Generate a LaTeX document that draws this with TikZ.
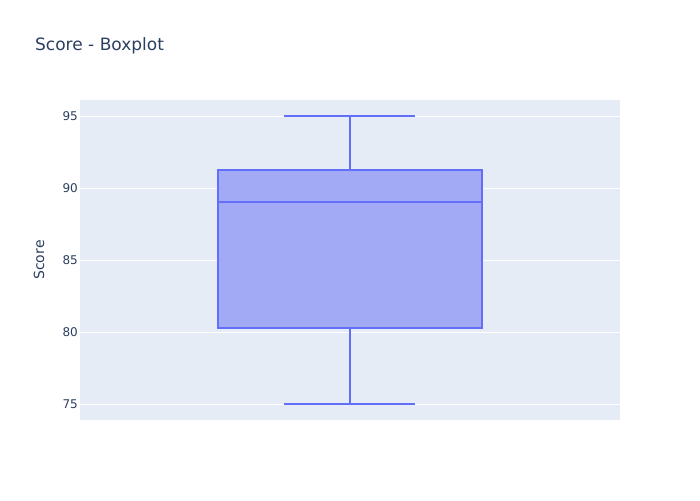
\documentclass[tikz,border=0pt]{standalone}
\usepackage{fontspec}
\setmainfont{DejaVu Sans}
\definecolor{plotbg}{HTML}{E5ECF6}
\definecolor{boxline}{HTML}{636EFA}
\definecolor{boxfill}{HTML}{A2A9F5}
\definecolor{axistext}{HTML}{2A3F5F}
\tikzset{
  ticklabel/.style={anchor=east,inner sep=0pt,text=axistext,font=\fontsize{12}{14}\selectfont},
  gridline/.style={draw=white,line width=1pt},
  boxedge/.style={draw=boxline,line width=2pt}
}
\begin{document}
\begin{tikzpicture}[x=1pt,y=-1pt]
\useasboundingbox (0,0) rectangle (700,500);
\fill[plotbg] (80,100) rectangle (620,420);
% grid and tick labels
\foreach \v/\yy in {95/116,90/188,85/260,80/332,75/404}{
  \path[gridline] (80,\yy) -- (620,\yy);
  \node[ticklabel] (tick\v) at (78,\yy) {\v};
}
\node(title) at (35,50.5)[anchor=base west,inner sep=0pt,text=axistext,font=\fontsize{17}{20}\selectfont] {Score - Boxplot};
\node(ylabel) at (39,260)[rotate=90,inner sep=0pt,text=axistext,font=\fontsize{14}{16}\selectfont] {Score};
% box
\coordinate(max) at (349.5,116);
\coordinate(min) at (349.5,404);
\coordinate(q3) at (349.5,170);
\coordinate(q1) at (349.5,328.3);
\path[boxedge,fill=boxfill] (217.5,170) rectangle (482,328.3);
\path[boxedge] (217.5,202.3) -- (482,202.3);
\path [boxedge]
  (q3)      edge     (max)
  (q1)      edge     (min)
  (284,116) edge     (415,116)
  (284,404) edge     (415,404);
\end{tikzpicture}
\end{document}
